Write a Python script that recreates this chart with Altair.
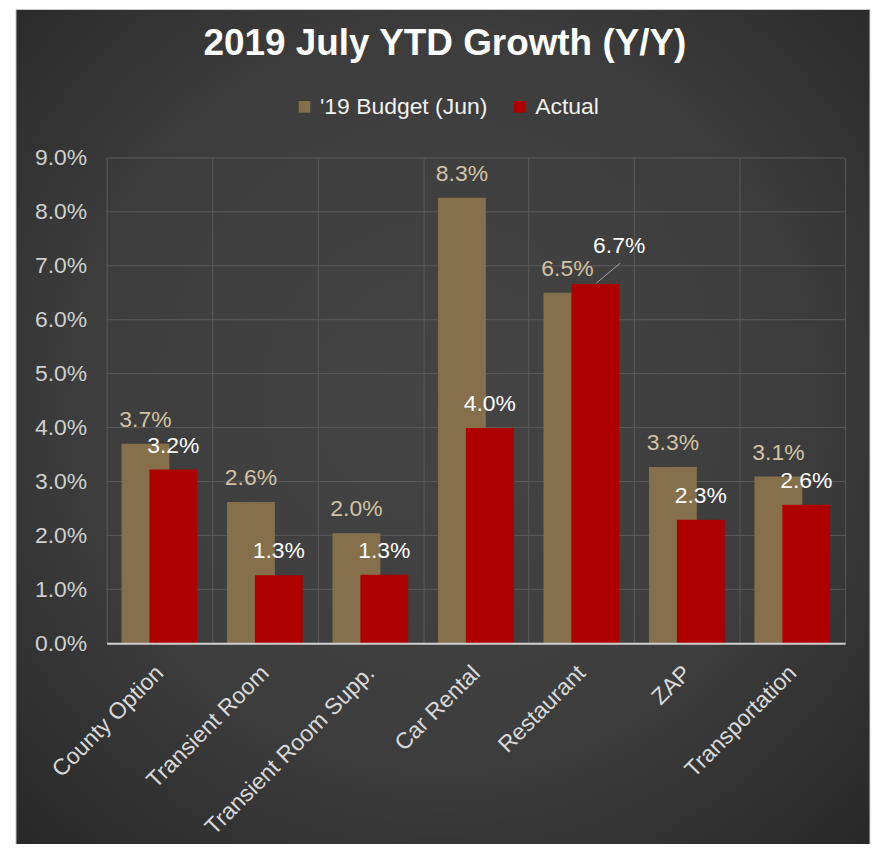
import altair as alt
import pandas as pd

categories = ["County Option", "Transient Room", "Transient Room Supp.", "Car Rental",
              "Restaurant", "ZAP", "Transportation"]
budget = [0.0370, 0.0262, 0.0204, 0.0826, 0.0650, 0.0327, 0.0309]
actual = [0.0322, 0.0126, 0.0127, 0.0399, 0.0666, 0.0229, 0.0257]
series_names = ["'19 Budget (Jun)", "Actual"]
y_ticks = [0.0, 0.01, 0.02, 0.03, 0.04, 0.05, 0.06, 0.07, 0.08, 0.09]
title_text = "2019 July YTD Growth (Y/Y)"

rows = []
for c, b, a in zip(categories, budget, actual):
    rows.append({"category": c, "series": series_names[0], "value": b})
    rows.append({"category": c, "series": series_names[1], "value": a})
df = pd.DataFrame(rows)
grid_df = pd.DataFrame({"value": y_ticks})

BROWN = "#86704c"
RED = "#ae0000"
TAN = "#d3c3a5"
GRID = "#5a5a5a"
FONT = "Liberation Sans"

W, H = 741, 487

x_enc = alt.X("category:N", sort=categories, title=None,
              scale=alt.Scale(paddingInner=0, paddingOuter=0),
              axis=alt.Axis(labelAngle=-45, labelAlign="right", labelBaseline="middle",
                            labelFontSize=23, labelColor="#d9d9d9", labelFont=FONT,
                            labelPadding=26, labelLimit=400, ticks=False,
                            domain=True, domainColor="#d0d0d0", domainWidth=2,
                            grid=True, gridColor=GRID, gridWidth=1,
                            tickBand="extent", zindex=1))
y_enc = alt.Y("value:Q", title=None,
              scale=alt.Scale(domain=[0, 0.09], nice=False),
              axis=alt.Axis(values=y_ticks, format=".1%", labelFontSize=23,
                            labelColor="#d0d0d0", labelFont=FONT, labelPadding=20,
                            ticks=False, domain=False, grid=False, zindex=1))
color_enc = alt.Color("series:N", scale=alt.Scale(domain=series_names, range=[BROWN, RED]),
                      legend=alt.Legend(orient="none", legendX=187, legendY=-63,
                                        direction="horizontal", title=None,
                                        symbolType="square", symbolSize=135,
                                        symbolStrokeWidth=0, labelFontSize=23,
                                        labelColor="#f2f2f2", labelFont=FONT,
                                        labelLimit=400,
                                        labelOffset=4, columnPadding=20))

bg = alt.Chart(pd.DataFrame({"bg": [0]})).mark_rect(
    fill={"gradient": "radial", "x1": 0.5, "y1": 0.45, "r1": 0,
          "x2": 0.5, "y2": 0.45, "r2": 0.75,
          "stops": [{"offset": 0, "color": "#444444"},
                    {"offset": 0.55, "color": "#3d3d3d"},
                    {"offset": 1, "color": "#252525"}]},
    stroke="#cfcfcf", strokeWidth=1
).encode(x=alt.value(-91), x2=alt.value(766), y=alt.value(-149), y2=alt.value(720))

hgrid = alt.Chart(grid_df).mark_rule(color=GRID, strokeWidth=1).encode(y=y_enc)

base = alt.Chart(df)
is_budget = alt.FieldEqualPredicate(field="series", equal=series_names[0])
is_actual = alt.FieldEqualPredicate(field="series", equal=series_names[1])

bars_b = base.transform_filter(is_budget).mark_bar(width=48, xOffset=-14).encode(
    x=x_enc, y=y_enc, color=color_enc)
bars_a = base.transform_filter(is_actual).mark_bar(width=48, xOffset=14).encode(
    x=x_enc, y=y_enc, color=color_enc)

lab_b = base.transform_filter(is_budget).mark_text(
    dx=-14, dy=-17, baseline="alphabetic", align="center", fontSize=23, font=FONT, color=TAN
).encode(x=x_enc, y=y_enc, text=alt.Text("value:Q", format=".1%"))

lab_a = base.transform_filter(is_actual).transform_filter(
    alt.FieldOneOfPredicate(field="category", oneOf=[c for c in categories if c != "Restaurant"])
).mark_text(
    dx=14, dy=-17, baseline="alphabetic", align="center", fontSize=23, font=FONT, color="white"
).encode(x=x_enc, y=y_enc, text=alt.Text("value:Q", format=".1%"))

lab_a_special = base.transform_filter(is_actual).transform_filter(
    alt.FieldEqualPredicate(field="category", equal="Restaurant")
).mark_text(
    dx=38, dy=-31, baseline="alphabetic", align="center", fontSize=23, font=FONT, color="white"
).encode(x=x_enc, y=y_enc, text=alt.Text("value:Q", format=".1%"))

leader = base.transform_filter(is_actual).transform_filter(
    alt.FieldEqualPredicate(field="category", equal="Restaurant")
).mark_rule(color="#a6a6a6", strokeWidth=1, xOffset=15, x2Offset=39,
            yOffset=-1, y2Offset=-21).encode(
    x=x_enc, x2="category:N", y=y_enc, y2="value:Q")

chart = alt.layer(bg, hgrid, bars_b, bars_a, lab_b, lab_a, lab_a_special, leader).properties(
    width=W, height=H,
    autosize=alt.AutoSizeParams(type="none"),
    padding={"left": 99, "top": 149, "right": 26, "bottom": 200},
    background="white",
    title=alt.TitleParams(title_text, anchor="middle", fontSize=37, fontWeight="bold",
                          color="white", font=FONT, offset=0, baseline="alphabetic",
                          dx=-31, dy=83),
).configure_view(stroke=None)

chart.save("out.html", embed_options={"renderer": "svg", "actions": False})
